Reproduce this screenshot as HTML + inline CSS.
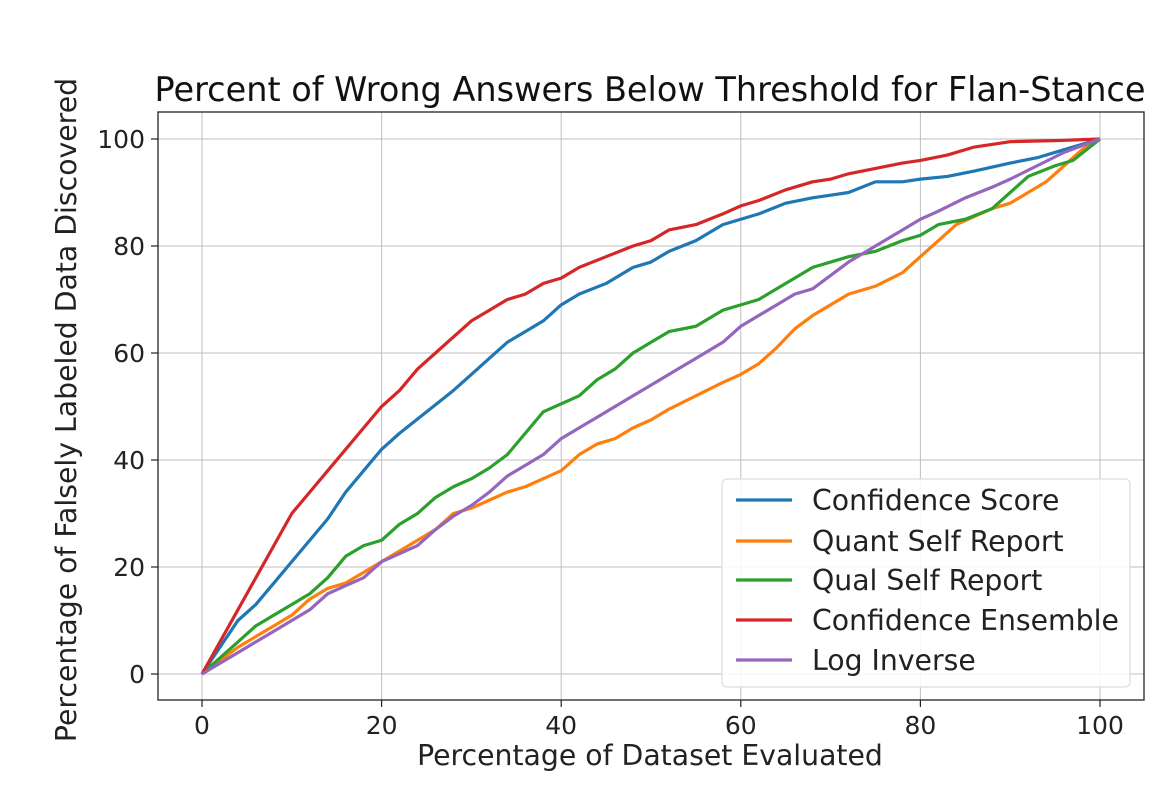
<!DOCTYPE html>
<html><head><meta charset="utf-8"><style>
html,body{margin:0;padding:0;background:#fff;}
svg{display:block;font-family:"DejaVu Sans","Liberation Sans",sans-serif;}
</style></head><body>
<svg width="1174" height="808" viewBox="0 0 1174 808">
<rect width="1174" height="808" fill="#fff"/>
<g stroke="#b0b0b0" stroke-width="1" opacity="0.8">
<line x1="202" y1="112" x2="202" y2="700"/><line x1="381.6" y1="112" x2="381.6" y2="700"/><line x1="561.2" y1="112" x2="561.2" y2="700"/><line x1="740.8" y1="112" x2="740.8" y2="700"/><line x1="920.4" y1="112" x2="920.4" y2="700"/><line x1="1100" y1="112" x2="1100" y2="700"/>
<line x1="158" y1="674" x2="1144" y2="674"/><line x1="158" y1="567" x2="1144" y2="567"/><line x1="158" y1="460" x2="1144" y2="460"/><line x1="158" y1="353" x2="1144" y2="353"/><line x1="158" y1="246" x2="1144" y2="246"/><line x1="158" y1="139" x2="1144" y2="139"/>
</g>
<g transform="translate(202,674) scale(8.98,-5.35)" fill="none" stroke-width="3.2" stroke-linejoin="round">
<polyline vector-effect="non-scaling-stroke" stroke="#1f77b4" points="0,0 2,5 4,10 6,13 8,17 10,21 12,25 14,29 16,34 18,38 20,42 22,45 25,49 28,53 30,56 32,59 34,62 36,64 38,66 40,69 42,71 45,73 48,76 50,77 52,79 55,81 58,84 60,85 62,86 65,88 68,89 70,89.5 72,90 75,92 78,92 80,92.5 83,93 86,94 90,95.5 93,96.5 96,98 100,100"/>
<polyline vector-effect="non-scaling-stroke" stroke="#ff7f0e" points="0,0 2,2.5 4,5 6,7 8,9 10,11 12,14 14,16 16,17 18,19 20,21 22,23 24,25 26,27 28,30 30,31 32,32.5 34,34 36,35 38,36.5 40,38 42,41 44,43 46,44 48,46 50,47.5 52,49.5 55,52 58,54.5 60,56 62,58 64,61 66,64.5 68,67 70,69 72,71 75,72.5 78,75 80,78 82,81 84,84 86,85.5 88,87 90,88 92,90 94,92 96,95 98,98 100,100"/>
<polyline vector-effect="non-scaling-stroke" stroke="#2ca02c" points="0,0 2,3 4,6 6,9 8,11 10,13 12,15 14,18 16,22 18,24 20,25 22,28 24,30 26,33 28,35 30,36.5 32,38.5 34,41 36,45 38,49 40,50.5 42,52 44,55 46,57 48,60 50,62 52,64 55,65 58,68 60,69 62,70 64,72 66,74 68,76 70,77 72,78 75,79 78,81 80,82 82,84 85,85 88,87 90,90 92,93 95,95 97,96 100,100"/>
<polyline vector-effect="non-scaling-stroke" stroke="#d62728" points="0,0 2,6 4,12 6,18 8,24 10,30 12,34 14,38 16,42 18,46 20,50 22,53 24,57 26,60 28,63 30,66 32,68 34,70 36,71 38,73 40,74 42,76 45,78 48,80 50,81 52,83 55,84 58,86 60,87.5 62,88.5 65,90.5 68,92 70,92.5 72,93.5 75,94.5 78,95.5 80,96 83,97 86,98.5 90,99.5 95,99.7 100,100"/>
<polyline vector-effect="non-scaling-stroke" stroke="#9467bd" points="0,0 2,2 4,4 6,6 8,8 10,10 12,12 14,15 16,16.5 18,18 20,21 22,22.5 24,24 26,27 28,29.5 30,31.5 32,34 34,37 36,39 38,41 40,44 42,46 44,48 46,50 48,52 50,54 52,56 55,59 58,62 60,65 62,67 64,69 66,71 68,72 70,74.5 72,77 75,80 78,83 80,85 82,86.5 85,89 88,91 90,92.5 93,95 96,97.5 100,100"/>
</g>
<rect x="158" y="112" width="986" height="588" fill="none" stroke="#222" stroke-width="1.3"/>
<g stroke="#222" stroke-width="1.2">
<line x1="202" y1="700" x2="202" y2="707"/><line x1="381.6" y1="700" x2="381.6" y2="707"/><line x1="561.2" y1="700" x2="561.2" y2="707"/><line x1="740.8" y1="700" x2="740.8" y2="707"/><line x1="920.4" y1="700" x2="920.4" y2="707"/><line x1="1100" y1="700" x2="1100" y2="707"/>
<line x1="151" y1="674" x2="158" y2="674"/><line x1="151" y1="567" x2="158" y2="567"/><line x1="151" y1="460" x2="158" y2="460"/><line x1="151" y1="353" x2="158" y2="353"/><line x1="151" y1="246" x2="158" y2="246"/><line x1="151" y1="139" x2="158" y2="139"/>
</g>
<g font-size="25" fill="#222" text-anchor="middle">
<text x="202" y="734">0</text><text x="381.6" y="734">20</text><text x="561.2" y="734">40</text><text x="740.8" y="734">60</text><text x="920.4" y="734">80</text><text x="1100" y="734">100</text>
</g>
<g font-size="25" fill="#222" text-anchor="end">
<text x="145" y="683">0</text><text x="145" y="576">20</text><text x="145" y="469">40</text><text x="145" y="362">60</text><text x="145" y="255">80</text><text x="145" y="148">100</text>
</g>
<text x="650" y="765" font-size="28.3" fill="#222" text-anchor="middle">Percentage of Dataset Evaluated</text>
<text transform="translate(76,410) rotate(-90)" font-size="28.3" fill="#222" text-anchor="middle">Percentage of Falsely Labeled Data Discovered</text>
<text x="650" y="101" font-size="33.5" fill="#111" text-anchor="middle">Percent of Wrong Answers Below Threshold for Flan-Stance</text>
<rect x="722" y="479" width="408" height="208" rx="5" fill="#fff" fill-opacity="0.85" stroke="#ddd" stroke-width="1.2"/>
<g stroke-width="3.2">
<line x1="736" y1="500" x2="792" y2="500" stroke="#1f77b4"/>
<line x1="736" y1="541" x2="792" y2="541" stroke="#ff7f0e"/>
<line x1="736" y1="580" x2="792" y2="580" stroke="#2ca02c"/>
<line x1="736" y1="620" x2="792" y2="620" stroke="#d62728"/>
<line x1="736" y1="660" x2="792" y2="660" stroke="#9467bd"/>
</g>
<g font-size="28.3" fill="#222">
<text x="812" y="510">Confidence Score</text>
<text x="812" y="551">Quant Self Report</text>
<text x="812" y="590">Qual Self Report</text>
<text x="812" y="630">Confidence Ensemble</text>
<text x="812" y="670">Log Inverse</text>
</g>
</svg>
</body></html>
